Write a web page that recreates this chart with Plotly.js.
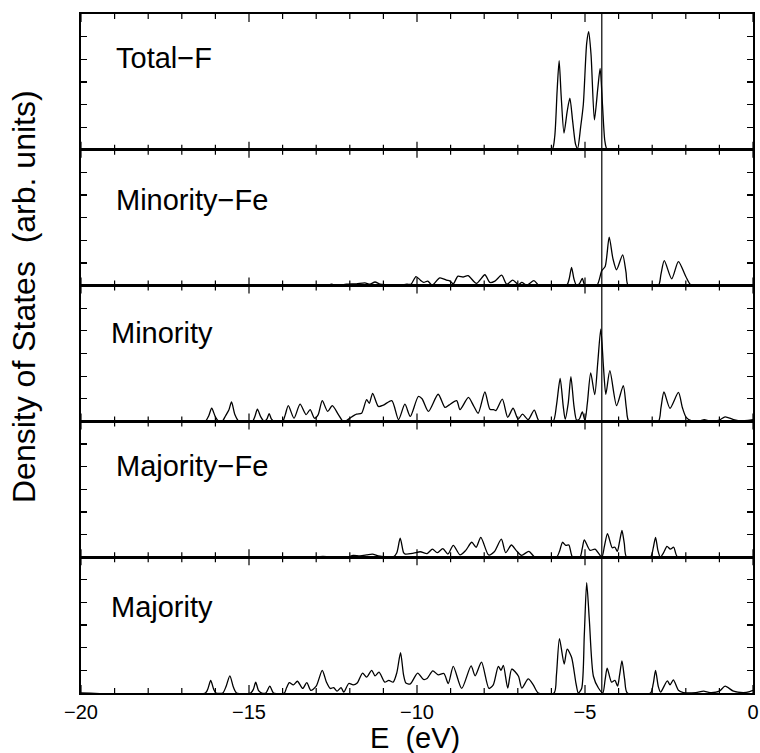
<!DOCTYPE html>
<html>
<head>
<meta charset="utf-8">
<script src="https://cdn.plot.ly/plotly-3.0.1.min.js"></script>
<style>html,body{margin:0;padding:0;background:#fff;}#chart{width:760px;height:753px;}</style>
</head>
<body>
<div id="chart"></div>
<script>
// Energy (eV) and DOS (arb. units), one [E, DOS] pair per point
const panelLabels = ["Total\u2212F", "Minority\u2212Fe", "Minority", "Majority\u2212Fe", "Majority"];
const fermiEnergy = -4.5;
// x ticks at every integer eV, labelled every 5 eV
const xTickVals = [-20,-19,-18,-17,-16,-15,-14,-13,-12,-11,-10,-9,-8,-7,-6,-5,-4,-3,-2,-1,0];
const xTickText = ["\u221220","","","","","\u221215","","","","","\u221210","","","","","\u22125","","","","","0"];
const yTickVals = [0, 0.5, 1, 1.5, 2, 2.5, 3];

const totalF = [[-20,0],[-6.3,0],[-5.98,0],[-5.9,0.3],[-5.83,1.3],[-5.77,1.97],[-5.71,1.2],[-5.625,0.37],[-5.53,0.85],[-5.45,1.14],[-5.37,0.65],[-5.28,0.12],[-5.22,0.03],[-5.13,0.5],[-5.05,1.0],[-4.95,2.35],[-4.89,2.61],[-4.82,2.1],[-4.72,0.66],[-4.62,1.35],[-4.55,1.80],[-4.48,1.0],[-4.41,0.2],[-4.35,0.02],[-4.2,0],[-2,0.01],[-1,0.01],[0,0.02]];

const minorityFe = [[-20,0],[-13,0],[-12.7,0],[-12.54,0.03],[-12.4,0],[-12.1,0.03],[-11.8,0.04],[-11.55,0.06],[-11.4,0.03],[-11.25,0.08],[-11.1,0.03],[-10.9,0.02],[-10.5,0.01],[-10.3,0.03],[-10.18,0.03],[-10.03,0.2],[-9.9,0.12],[-9.8,0.07],[-9.68,0.1],[-9.55,0.01],[-9.32,0.17],[-9.12,0.12],[-9.02,0.1],[-8.92,0.04],[-8.78,0.21],[-8.63,0.19],[-8.48,0.22],[-8.23,0.05],[-7.98,0.24],[-7.83,0.07],[-7.68,0.1],[-7.48,0.23],[-7.33,0.03],[-7.15,0.12],[-6.98,0.02],[-6.88,0.07],[-6.73,0.01],[-6.52,0.11],[-6.36,0],[-5.55,0],[-5.47,0.15],[-5.40,0.40],[-5.33,0.15],[-5.25,0],[-5.16,0.05],[-5.08,0.16],[-5.0,0],[-4.65,0],[-4.5,0.33],[-4.40,0.42],[-4.28,1.07],[-4.17,0.6],[-4.06,0.35],[-3.88,0.68],[-3.78,0.3],[-3.71,0],[-2.82,0],[-2.74,0.25],[-2.64,0.55],[-2.42,0.15],[-2.22,0.53],[-2.0,0.2],[-1.83,0],[-1,0.01],[0,0.01]];

const minority = [[-20,0],[-16.4,0],[-16.3,0],[-16.2,0.12],[-16.11,0.29],[-16.0,0.1],[-15.9,0],[-15.8,0],[-15.7,0.12],[-15.6,0.25],[-15.52,0.43],[-15.42,0.15],[-15.3,0],[-14.9,0],[-14.82,0.12],[-14.75,0.27],[-14.65,0.1],[-14.55,0],[-14.47,0.05],[-14.4,0.17],[-14.33,0.05],[-14.25,0],[-14.0,0],[-13.92,0.15],[-13.83,0.35],[-13.66,0.07],[-13.48,0.38],[-13.3,0.15],[-13.18,0.26],[-13.05,0.07],[-12.94,0.15],[-12.82,0.46],[-12.66,0.22],[-12.52,0.35],[-12.34,0.15],[-12.2,0],[-12.1,0.02],[-12.0,0.07],[-11.8,0.16],[-11.65,0.18],[-11.5,0.48],[-11.42,0.4],[-11.32,0.62],[-11.15,0.33],[-11.0,0.36],[-10.75,0.46],[-10.55,0.04],[-10.36,0.38],[-10.2,0.11],[-9.96,0.55],[-9.85,0.5],[-9.66,0.22],[-9.37,0.60],[-9.17,0.31],[-9.05,0.36],[-8.82,0.46],[-8.72,0.26],[-8.47,0.53],[-8.32,0.35],[-8.18,0.18],[-7.98,0.65],[-7.83,0.27],[-7.72,0.26],[-7.65,0.24],[-7.46,0.49],[-7.3,0.09],[-7.14,0.29],[-6.99,0.05],[-6.86,0.16],[-6.69,0.04],[-6.51,0.25],[-6.36,0],[-5.95,0],[-5.85,0.35],[-5.74,0.95],[-5.65,0.35],[-5.59,0.05],[-5.5,0.4],[-5.42,0.99],[-5.33,0.35],[-5.25,0.03],[-5.17,0.05],[-5.08,0.21],[-5.0,0.02],[-4.93,0.4],[-4.83,1.07],[-4.71,0.59],[-4.62,1.3],[-4.53,2.04],[-4.45,1.2],[-4.38,0.6],[-4.26,1.12],[-4.06,0.35],[-3.86,0.79],[-3.77,0.3],[-3.69,0],[-2.82,0],[-2.74,0.3],[-2.65,0.65],[-2.47,0.29],[-2.22,0.64],[-2.1,0.3],[-1.99,0.09],[-1.82,0.01],[-1.6,0.01],[-1.45,0.04],[-1.28,0.01],[-1.0,0.03],[-0.83,0.10],[-0.58,0.04],[-0.33,0.01],[-0.15,0.02],[0,0.04]];

const majorityFe = [[-20,0],[-13.0,0],[-12.8,0.02],[-12.6,0],[-12.1,0],[-11.9,0.04],[-11.7,0.03],[-11.5,0.05],[-11.33,0.07],[-11.15,0.03],[-10.95,0.01],[-10.7,0.01],[-10.6,0.1],[-10.5,0.42],[-10.4,0.1],[-10.35,0.07],[-10.1,0.09],[-9.9,0.12],[-9.7,0.08],[-9.54,0.18],[-9.4,0.1],[-9.23,0.19],[-9.08,0.07],[-8.92,0.26],[-8.72,0.05],[-8.55,0.15],[-8.37,0.33],[-8.24,0.22],[-8.1,0.44],[-7.87,0.05],[-7.7,0.12],[-7.49,0.4],[-7.36,0.1],[-7.19,0.27],[-7.05,0.15],[-6.89,0.04],[-6.67,0.13],[-6.49,0],[-5.85,0],[-5.75,0.15],[-5.67,0.33],[-5.57,0.26],[-5.48,0.27],[-5.37,0],[-5.15,0],[-5.08,0.2],[-5.02,0.38],[-4.85,0.15],[-4.7,0.18],[-4.5,0],[-4.42,0.25],[-4.33,0.52],[-4.19,0.21],[-4.11,0.22],[-4.04,0.13],[-3.97,0.35],[-3.9,0.59],[-3.83,0.3],[-3.76,0],[-3.05,0],[-2.97,0.2],[-2.9,0.44],[-2.83,0.15],[-2.76,0],[-2.66,0.1],[-2.56,0.24],[-2.46,0.18],[-2.36,0.22],[-2.24,0],[0,0]];

const majority = [[-20,0],[-16.3,0],[-16.22,0.1],[-16.14,0.28],[-16.05,0.08],[-15.98,0],[-15.78,0],[-15.68,0.15],[-15.57,0.38],[-15.46,0.12],[-15.37,0],[-14.95,0],[-14.87,0.08],[-14.8,0.24],[-14.72,0.06],[-14.62,0],[-14.5,0],[-14.38,0.15],[-14.27,0],[-13.95,0],[-13.88,0.12],[-13.8,0.23],[-13.68,0.18],[-13.56,0.26],[-13.4,0.1],[-13.28,0.23],[-13.16,0.06],[-13.0,0.15],[-12.82,0.50],[-12.7,0.25],[-12.58,0.1],[-12.48,0.12],[-12.38,0.04],[-12.26,0.12],[-12.18,0.02],[-12.03,0.21],[-11.9,0.18],[-11.78,0.22],[-11.62,0.44],[-11.5,0.35],[-11.35,0.5],[-11.25,0.38],[-11.13,0.46],[-10.96,0.24],[-10.84,0.28],[-10.71,0.24],[-10.6,0.45],[-10.49,0.89],[-10.4,0.4],[-10.33,0.22],[-10.2,0.2],[-9.98,0.44],[-9.81,0.3],[-9.7,0.32],[-9.53,0.49],[-9.37,0.4],[-9.2,0.43],[-9.07,0.21],[-8.92,0.59],[-8.67,0.1],[-8.39,0.6],[-8.27,0.38],[-8.08,0.68],[-7.86,0.1],[-7.73,0.18],[-7.58,0.59],[-7.5,0.5],[-7.43,0.61],[-7.3,0.11],[-7.18,0.53],[-6.98,0.37],[-6.88,0.11],[-6.69,0.31],[-6.54,0.18],[-6.39,0],[-5.92,0],[-5.85,0.4],[-5.76,1.20],[-5.62,0.64],[-5.53,0.97],[-5.4,0.79],[-5.27,0.22],[-5.2,0],[-5.1,0.1],[-5.02,1.3],[-4.95,2.44],[-4.87,1.6],[-4.75,0.37],[-4.6,0.11],[-4.47,0],[-4.40,0.3],[-4.34,0.55],[-4.21,0.24],[-4.11,0.28],[-4.03,0.15],[-3.97,0.4],[-3.9,0.71],[-3.82,0.3],[-3.74,0],[-3.05,0],[-2.97,0.2],[-2.9,0.50],[-2.82,0.15],[-2.75,0.02],[-2.55,0.27],[-2.47,0.18],[-2.37,0.29],[-2.22,0.06],[-2.07,0.01],[-1.7,0.01],[-1.47,0.04],[-1.28,0.01],[-1.0,0.04],[-0.83,0.15],[-0.58,0.04],[-0.29,0.01],[-0.1,0.03],[0,0.06]];

const panels = [totalF, minorityFe, minority, majorityFe, majority]; // top to bottom

const FONT = "Liberation Sans, Arial, Helvetica, sans-serif";
const nP = panels.length;
const PLOT_H = 753 - 14 - 60;
const traces = [];
const layout = {
  width: 760, height: 753,
  margin: {l: 81, r: 7, t: 14, b: 60},
  paper_bgcolor: "#fff", plot_bgcolor: "#fff",
  showlegend: false,
  font: {family: FONT, color: "#000"},
  annotations: [], shapes: []
};

panels.forEach((pts, i) => {
  const axN = nP - i; // bottom panel uses axis 1
  const xa = axN === 1 ? "x" : "x" + axN;
  const ya = axN === 1 ? "y" : "y" + axN;
  traces.push({
    type: "scatter", mode: "lines",
    x: pts.map(p => p[0]), y: pts.map(p => p[1]),
    xaxis: xa, yaxis: ya,
    line: {color: "#000", width: 1.3, shape: "spline", smoothing: 0.7},
    hoverinfo: "skip"
  });
  const d0 = (axN - 1) / nP, d1 = axN / nP;
  const xKey = axN === 1 ? "xaxis" : "xaxis" + axN;
  const yKey = axN === 1 ? "yaxis" : "yaxis" + axN;
  layout[xKey] = {
    anchor: ya, domain: [0, 1], range: [-20, 0],
    tickmode: "array", tickvals: xTickVals, ticktext: xTickText,
    ticks: "",
    showline: true, linecolor: "#000", linewidth: 1.6, mirror: true,
    showgrid: false, zeroline: false,
    showticklabels: axN === 1,
    tickfont: {family: FONT, size: 20, color: "#000"},
    fixedrange: true
  };
  if (axN !== 1) layout[xKey].matches = "x";
  layout[yKey] = {
    anchor: xa, domain: [d0, d1], range: [0, 3],
    tickmode: "array", tickvals: yTickVals,
    ticks: "inside", ticklen: 6, tickwidth: 1.2, tickcolor: "#000",
    showline: true, linecolor: "#000", linewidth: 1.6, mirror: "ticks",
    showgrid: false, zeroline: false, showticklabels: false,
    fixedrange: true
  };
  // x tick marks on bottom and top edge of each panel, placed through the x scale
  xTickVals.forEach(v => {
    const len = ((v % 5 === 0) ? 8 : 5) / PLOT_H;
    layout.shapes.push({
      type: "line", xref: xa, yref: "paper", x0: v, x1: v, y0: d0, y1: d0 + len,
      line: {color: "#000", width: 1.2}, layer: "above"
    });
    layout.shapes.push({
      type: "line", xref: xa, yref: "paper", x0: v, x1: v, y0: d1, y1: d1 - len,
      line: {color: "#000", width: 1.2}, layer: "above"
    });
  });
});

// panel labels (paper coords)
const labelPos = [[114, 58], [114, 200], [109, 333], [114, 466], [109, 607]];
panelLabels.forEach((t, i) => {
  layout.annotations.push({
    text: t, xref: "paper", yref: "paper",
    x: (labelPos[i][0] - 81) / 672, y: (693 - labelPos[i][1]) / 679,
    xanchor: "left", yanchor: "middle", showarrow: false,
    font: {family: FONT, size: 29, color: "#000"}
  });
});

// axis titles
layout.annotations.push({
  text: "Density of States  (arb. units)", xref: "paper", yref: "paper",
  x: (24 - 81) / 672, y: (693 - 297) / 679, xanchor: "center", yanchor: "middle",
  textangle: -90, showarrow: false, font: {family: FONT, size: 32, color: "#000"}
});
layout.annotations.push({
  text: "E  (eV)", xref: "paper", yref: "paper",
  x: (415 - 81) / 672, y: (693 - 738) / 679, xanchor: "center", yanchor: "middle",
  showarrow: false, font: {family: FONT, size: 29, color: "#000"}
});

// Fermi level line across all panels
layout.shapes.push({
  type: "line", xref: "x", yref: "paper", x0: fermiEnergy, x1: fermiEnergy, y0: 0, y1: 1,
  line: {color: "#000", width: 1.2}
});

Plotly.newPlot("chart", traces, layout, {displayModeBar: false, staticPlot: true});
</script>
</body>
</html>
